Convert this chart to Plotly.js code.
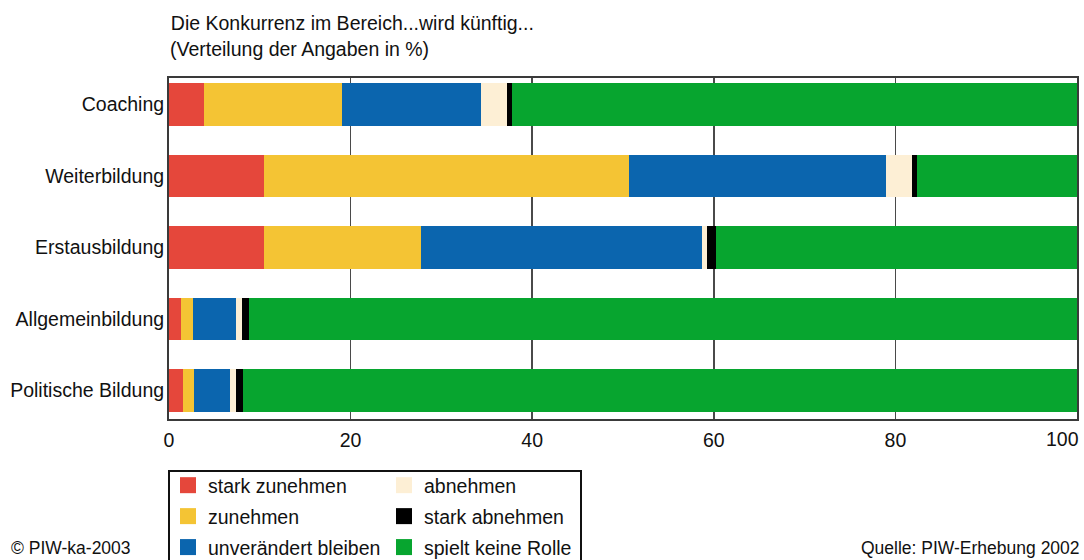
<!DOCTYPE html>
<html>
<head>
<meta charset="utf-8">
<script src="https://cdn.plot.ly/plotly-3.0.1.min.js"></script>
<style>html,body{margin:0;padding:0;background:#fff;}#chart{width:1084px;height:560px;}</style>
</head>
<body>
<div id="chart"></div>
<script>
const categories = ['Coaching', 'Weiterbildung', 'Erstausbildung', 'Allgemeinbildung', 'Politische Bildung'];
const seriesNames = ['stark zunehmen', 'zunehmen', 'unverändert bleiben', 'abnehmen', 'stark abnehmen', 'spielt keine Rolle'];
const starkZunehmen = [3.8, 10.5, 10.5, 1.3, 1.5];
const zunehmen = [15.3, 40.2, 17.2, 1.3, 1.3];
const unveraendert = [15.3, 28.3, 31.0, 4.8, 3.9];
const abnehmen = [2.8, 2.8, 0.6, 0.6, 0.7];
const starkAbnehmen = [0.6, 0.6, 0.9, 0.8, 0.8];
const keineRolle = [62.2, 17.6, 39.8, 91.2, 91.8];
const xTicks = [0, 20, 40, 60, 80, 100];
const titleLines = ['Die Konkurrenz im Bereich...wird künftig...', '(Verteilung der Angaben in %)'];

const seriesValues = [starkZunehmen, zunehmen, unveraendert, abnehmen, starkAbnehmen, keineRolle];
const colors = ['#E5473B', '#F4C434', '#0B65AE', '#FDEFD5', '#000000', '#07A52F'];
const legendOf = ['legend', 'legend', 'legend', 'legend2', 'legend2', 'legend2'];

const FONT = 'Liberation Sans, Arial, Helvetica, sans-serif';
const FS = 19.5;
const traces = [];
seriesNames.forEach((name, i) => {
  traces.push({
    type: 'bar', orientation: 'h', name: name,
    y: categories, x: seriesValues[i],
    marker: {color: colors[i], line: {width: 0}},
    showlegend: false, hoverinfo: 'x+name'
  });
});
seriesNames.forEach((name, i) => {
  traces.push({
    type: 'scatter', mode: 'markers', name: name,
    x: [null], y: [null],
    marker: {symbol: 'square', size: 16, color: colors[i]},
    legend: legendOf[i], legendgroup: 'g' + i, showlegend: true, hoverinfo: 'skip'
  });
});

const L = 169, R = 7, T = 78, B = 141;
const W = 1084, H = 560;
const pw = W - L - R, ph = H - T - B;
const px2x = p => (p - L) / pw;
const py2y = p => (H - B - p) / ph;

const legendCommon = {
  orientation: 'v', traceorder: 'grouped', tracegroupgap: 2.6,
  bgcolor: 'rgba(0,0,0,0)', borderwidth: 0,
  font: {family: FONT, size: FS, color: '#111'},
  xanchor: 'left', yanchor: 'top', y: py2y(466)
};

const lastTick = xTicks[xTicks.length - 1];
const layout = {
  width: W, height: H,
  margin: {l: L, r: R, t: T, b: B, pad: 0, autoexpand: false},
  paper_bgcolor: '#fff', plot_bgcolor: '#fff',
  barmode: 'stack', bargap: 0.406,
  font: {family: FONT, size: FS, color: '#111'},
  title: {
    text: titleLines[0],
    font: {family: FONT, size: FS, color: '#111'},
    xref: 'paper', x: 0.002, xanchor: 'left',
    yref: 'container', y: 1 - 23 / H, yanchor: 'middle'
  },
  xaxis: {
    range: [0, 100], tickvals: xTicks,
    ticktext: xTicks.map(v => v === lastTick ? '' : String(v)),
    showgrid: true, gridcolor: '#4a4a4a', gridwidth: 1.6,
    zeroline: false, showline: true, linecolor: '#3a3a3a', linewidth: 2, mirror: true,
    ticks: '', ticklabelstandoff: 3,
    tickfont: {family: FONT, size: FS, color: '#111'}, fixedrange: true
  },
  yaxis: {
    type: 'category', categoryorder: 'array', categoryarray: categories,
    range: [4.40, -0.37],
    showgrid: false, zeroline: false, showline: true, linecolor: '#3a3a3a', linewidth: 2, mirror: true,
    ticks: '', ticklabelstandoff: -1, tickfont: {family: FONT, size: FS, color: '#111'}, fixedrange: true
  },
  legend: Object.assign({}, legendCommon, {x: px2x(168)}),
  legend2: Object.assign({}, legendCommon, {x: px2x(384)}),
  shapes: [{
    type: 'rect', xref: 'paper', yref: 'paper',
    x0: px2x(169), x1: px2x(581), y0: py2y(620), y1: py2y(471),
    line: {color: '#111', width: 2}, fillcolor: 'rgba(0,0,0,0)', layer: 'above'
  }],
  annotations: [
    {text: titleLines[1], xref: 'paper', yref: 'paper', x: px2x(168), y: py2y(49),
     xanchor: 'left', yanchor: 'middle', showarrow: false,
     font: {family: FONT, size: FS, color: '#111'}},
    {text: String(lastTick), xref: 'x', yref: 'paper', x: lastTick, y: py2y(439),
     xanchor: 'right', yanchor: 'middle', xshift: 4, showarrow: false,
     font: {family: FONT, size: FS, color: '#111'}},
    {text: '© PIW-ka-2003', xref: 'paper', yref: 'paper', x: px2x(9), y: py2y(548),
     xanchor: 'left', yanchor: 'middle', showarrow: false,
     font: {family: FONT, size: 17.5, color: '#111'}},
    {text: 'Quelle: PIW-Erhebung 2002', xref: 'paper', yref: 'paper', x: px2x(1082), y: py2y(548),
     xanchor: 'right', yanchor: 'middle', showarrow: false,
     font: {family: FONT, size: 17.5, color: '#111'}}
  ]
};

Plotly.newPlot('chart', traces, layout, {displayModeBar: false, staticPlot: true});
</script>
</body>
</html>
